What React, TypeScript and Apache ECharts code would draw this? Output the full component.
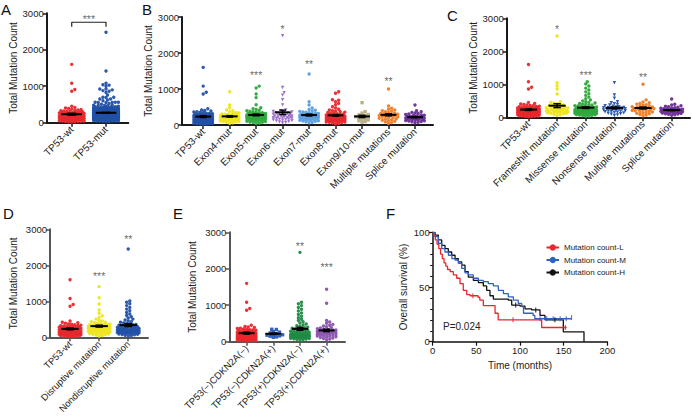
import React, { useEffect, useRef } from 'react';
import * as echarts from 'echarts';

const FONT = '"Liberation Sans", Arial, Helvetica, sans-serif';

// ---------- colours ----------
const RED = '#e8262b';
const BLUE = '#2150a8';
const YELLOW = '#eee41c';
const GREEN = '#2ea83c';
const DKGREEN = '#1f8a43';
const LPURPLE = '#9a6cc8';
const LBLUE = '#5b9de0';
const KHAKI = '#b5ad83';
const ORANGE = '#f07c22';
const DPURPLE = '#6b2c96';
const EPURPLE = '#8a53ad';
const EBLUE = '#2a58b5';

// ---------- data (Total Mutation Count per sample) ----------
const tp53Wt = [1600, 1080, 910, 860, 452, 418, 405, 388, 372, 360, 351, 338, 330, 322, 315, 306, 298, 291, 284, 279, 270, 266, 258, 252, 247, 241, 236, 230, 226, 219, 214, 208, 203, 199, 192, 188, 182, 177, 171, 168, 162, 158, 151, 147, 142, 138, 133, 128, 124, 119, 115, 110, 104, 99, 95, 90, 86, 81, 77, 72, 68, 63, 58, 54, 49, 44, 40, 35, 31, 26, 22, 18, 150, 210, 260, 180, 120, 240, 300, 90];
const exon4 = [926, 556, 480, 417, 398, 372, 350, 333, 320, 305, 298, 287, 276, 268, 259, 251, 246, 238, 231, 224, 219, 212, 206, 199, 193, 188, 181, 176, 170, 163, 158, 150, 144, 139, 131, 125, 118, 110, 102, 95, 86, 74, 62, 48, 265, 240, 210, 300];
const exon5 = [1080, 1030, 860, 760, 560, 480, 455, 430, 410, 395, 380, 366, 352, 340, 331, 322, 315, 308, 300, 294, 288, 281, 275, 270, 264, 259, 254, 248, 243, 238, 233, 228, 224, 219, 214, 209, 204, 199, 194, 189, 184, 178, 173, 168, 162, 156, 150, 144, 138, 131, 124, 117, 110, 102, 94, 85, 76, 66, 55, 42, 300, 250, 230, 280, 210, 190, 260, 320];
const exon6 = [2480, 1040, 900, 830, 700, 560, 420, 398, 376, 360, 344, 330, 318, 305, 292, 281, 270, 260, 251, 242, 233, 224, 215, 206, 197, 188, 179, 170, 161, 152, 142, 132, 121, 110, 98, 85, 70, 55, 300, 250, 200, 350];
const exon7 = [1418, 648, 556, 470, 432, 410, 392, 378, 365, 352, 341, 330, 320, 311, 302, 294, 286, 279, 272, 265, 258, 252, 246, 240, 234, 228, 222, 216, 210, 204, 198, 192, 186, 180, 173, 166, 159, 152, 145, 137, 129, 120, 111, 101, 90, 78, 64, 270, 250, 300, 230, 210, 290];
const exon8 = [926, 880, 700, 690, 648, 600, 560, 509, 470, 440, 417, 400, 385, 371, 358, 346, 335, 325, 315, 306, 297, 289, 281, 273, 266, 259, 252, 245, 239, 233, 227, 221, 215, 209, 203, 197, 191, 185, 179, 173, 167, 161, 155, 149, 143, 137, 130, 123, 116, 109, 101, 93, 85, 76, 66, 55, 42, 30, 250, 220, 200, 180, 160, 140, 120, 100, 80];
const exon910 = [620, 370, 330, 290, 278, 260, 245, 230, 215, 200, 180, 160, 140, 118, 95, 80];
const multipleMut = [1000, 528, 464, 440, 420, 400, 382, 366, 350, 336, 322, 310, 298, 286, 275, 264, 253, 242, 231, 220, 209, 198, 186, 174, 161, 148, 134, 119, 103, 86, 66, 45, 300, 270];
const spliceMut = [556, 398, 370, 350, 332, 318, 305, 293, 282, 272, 262, 253, 244, 236, 228, 220, 212, 205, 198, 191, 184, 177, 170, 163, 156, 149, 142, 134, 126, 118, 109, 99, 88, 75, 60, 220, 200, 240, 180];
const tp53Mut = [...exon4, ...exon5, ...exon6, ...exon7, ...exon8, ...exon910, ...multipleMut, ...spliceMut];

const frameshift = [2463, 1048, 957, 860, 706, 473, 450, 430, 410, 392, 376, 361, 347, 334, 322, 311, 300, 290, 280, 271, 262, 253, 244, 236, 228, 220, 212, 204, 196, 188, 180, 171, 162, 152, 142, 131, 119, 106, 92, 76, 58, 200, 160, 120];
const missense = [1079, 1012, 948, 884, 826, 771, 715, 664, 612, 560, 528, 498, 472, 451, 433, 416, 401, 387, 374, 362, 351, 340, 330, 320, 311, 302, 294, 286, 278, 271, 264, 257, 250, 244, 238, 232, 226, 220, 214, 209, 204, 199, 194, 189, 184, 179, 174, 169, 164, 159, 154, 149, 144, 139, 134, 129, 124, 118, 112, 106, 100, 94, 88, 81, 74, 67, 59, 51, 42, 33, 230, 215, 205, 160, 145, 130, 190, 175, 110, 225];
const nonsense = [1048, 676, 576, 473, 440, 412, 390, 371, 354, 339, 325, 312, 300, 289, 279, 269, 260, 251, 242, 233, 224, 215, 206, 197, 188, 178, 168, 157, 146, 134, 121, 107, 92, 75, 56, 260, 240, 280, 220, 300];

const disruptive = [1407, 1101, 926, 759, 667, 600, 548, 505, 470, 452, 436, 421, 407, 394, 382, 370, 359, 349, 339, 330, 321, 313, 305, 297, 290, 283, 276, 269, 262, 256, 250, 244, 238, 232, 226, 220, 214, 208, 202, 196, 190, 184, 178, 172, 166, 160, 154, 147, 140, 133, 126, 118, 110, 102, 93, 84, 74, 63, 51, 38, 300, 280, 320, 260, 240, 350, 310, 290, 270, 330];
const nondisruptive = [2455, 1009, 975, 930, 880, 830, 782, 735, 690, 648, 607, 570, 536, 505, 478, 455, 435, 417, 401, 386, 372, 359, 347, 336, 325, 315, 305, 296, 287, 279, 271, 263, 256, 249, 242, 235, 228, 222, 216, 210, 204, 198, 192, 186, 180, 174, 168, 162, 156, 150, 144, 138, 132, 126, 120, 113, 106, 99, 92, 84, 76, 68, 59, 49, 38, 240, 230, 220, 160, 150, 140, 200, 130, 190, 110];

const wtCdknPos = [340, 335, 280, 262, 240, 222, 205, 190, 178, 160, 150, 132, 120];
const mutCdknNeg = [2450, 1080, 1040, 990, 940, 890, 840, 790, 745, 700, 658, 618, 580, 545, 512, 483, 458, 436, 416, 398, 382, 367, 353, 340, 328, 317, 306, 296, 286, 277, 268, 260, 252, 244, 237, 230, 223, 216, 209, 203, 197, 191, 185, 179, 173, 167, 161, 155, 149, 143, 137, 131, 124, 117, 110, 103, 96, 88, 80, 72, 63, 53, 42, 150, 140, 130, 120, 210, 160, 170, 200, 110, 190];
const mutCdknPos = [1436, 1052, 580, 540, 505, 475, 450, 428, 408, 390, 374, 359, 345, 332, 320, 309, 299, 289, 280, 271, 262, 254, 246, 238, 230, 222, 214, 206, 198, 190, 182, 174, 165, 156, 146, 136, 125, 113, 100, 86, 70, 52, 300, 280, 260, 240, 320, 290];

// categories
const catsA = ['TP53-wt', 'TP53-mut'];
const catsB = ['TP53-wt', 'Exon4-mut', 'Exon5-mut', 'Exon6-mut', 'Exon7-mut', 'Exon8-mut', 'Exon9/10-mut', 'Multiple mutations', 'Splice mutation'];
const catsC = ['TP53-wt', 'Frameshift mutation', 'Missense mutation', 'Nonsense mutation', 'Multiple mutations', 'Splice mutation'];
const catsD = ['TP53-wt', 'Disruptive mutation', 'Nondisruptive mutation'];
const catsE = ['TP53(\u2212)CDKN2A(\u2212)', 'TP53(\u2212)CDKN2A(+)', 'TP53(+)CDKN2A(\u2212)', 'TP53(+)CDKN2A(+)'];
const countTicks = [0, 1000, 2000, 3000];

// significance labels: [category index, height, text]
const starsA: [number, number, string][] = [[0.5, 2900, '***']];
const starsB: [number, number, string][] = [[2, 1465, '***'], [3, 2733, '*'], [4, 1760, '**'], [7, 1298, '**']];
const starsC: [number, number, string][] = [[1, 2745, '*'], [2, 1363, '***'], [4, 1303, '**']];
const starsD: [number, number, string][] = [[1, 1760, '***'], [2, 2797, '**']];
const starsE: [number, number, string][] = [[2, 2696, '**'], [3, 2120, '***']];

// Kaplan-Meier (months, survival %)
const kmL = [[0, 100], [1, 97], [3, 93], [5, 89], [7, 85], [9, 80], [11, 76], [13, 72], [15, 69], [17, 66], [20, 64], [23.7, 61], [27.5, 58], [31.3, 53], [35, 47], [39, 43], [42.7, 42], [52, 40.5], [54, 38], [58, 33], [71.4, 26], [75, 20], [124.8, 13], [153.4, 13]];
const kmM = [[0, 100], [2.6, 96], [6.5, 90], [10.3, 85], [14, 82], [18, 79], [22, 76], [25.6, 74.7], [29.4, 71.6], [33.2, 67], [37, 63], [40.8, 61], [46.6, 58], [52.3, 56], [58, 55], [63.7, 53], [69.5, 51], [75.2, 47], [81, 44], [86.6, 41], [92.4, 38], [98, 35], [102, 32], [104, 26], [115, 24], [117, 21], [159, 21]];
const kmH = [[0, 100], [2.7, 97.5], [6.5, 93], [10.3, 88], [14.1, 85], [17.9, 82], [21.8, 79], [25.6, 76], [29.4, 73], [33.2, 70], [37, 64], [40.8, 59], [46.6, 56], [52.3, 54], [58, 51], [61.8, 47], [65.6, 42], [69.5, 39], [86.6, 38], [90.5, 33.5], [100, 32.6], [105.7, 30], [113.4, 29], [122.9, 24], [128.6, 20], [149.6, 9], [173.3, 9], [173.3, 0]];
const censorL = [[46, 42], [92, 20], [152, 13]];
const censorM = [[123, 21], [130.5, 21], [138, 21], [146, 21], [153, 21], [159, 22]];
const censorH = [[95, 33.5], [118, 29], [140, 20]];
const kmNames = ['Mutation count-L', 'Mutation count-M', 'Mutation count-H'];
const kmColors = [RED, '#2f62c0', '#111111'];
const timeTicks = [0, 50, 100, 150, 200];
const survTicks = [0, 50, 100];

// ---------- helpers ----------
function meanSem(v: number[]) {
  const n = v.length;
  const m = v.reduce((a, b) => a + b, 0) / n;
  const sd = Math.sqrt(v.reduce((a, b) => a + (b - m) * (b - m), 0) / (n - 1));
  return [m, sd / Math.sqrt(n)];
}

function swarm(values: number[], pxPerUnit: number, diam: number, maxHalf: number) {
  const idx = values.map((_, i) => i).sort((a, b) => values[a] - values[b]);
  const placed: { x: number; y: number }[] = [];
  const out = new Array(values.length).fill(0);
  const step = diam * 0.5;
  const nSteps = Math.floor(maxHalf / step);
  const cands: number[] = [0];
  for (let k = 1; k <= nSteps; k++) cands.push(k * step, -k * step);
  for (const i of idx) {
    const y = values[i] * pxPerUnit;
    const near = placed.filter((p) => Math.abs(p.y - y) < diam);
    let best = 0;
    let bestD = -1;
    for (const c of cands) {
      let minD = Infinity;
      for (const p of near) {
        const d = Math.hypot(p.x - c, p.y - y);
        if (d < minD) minD = d;
      }
      if (minD >= diam * 0.85) { best = c; break; }
      if (minD > bestD) { bestD = minD; best = c; }
    }
    placed.push({ x: best, y });
    out[i] = best;
  }
  return out;
}

type Group = { v: number[]; c: string; sym?: string; rot?: number };
type Panel = {
  grid: { left: number; top: number; width: number; height: number };
  xMin: number; xMax: number; cats: string[]; groups: Group[]; labelSize: number;
  stars: [number, number, string][]; axisColor: string; nameGap: number; bracket?: boolean;
};

const panels: Panel[] = [
  { grid: { left: 46.7, top: 13.3, width: 81.6, height: 109.4 }, xMin: -0.73, xMax: 1.65, cats: catsA, labelSize: 10,
    groups: [{ v: tp53Wt, c: RED }, { v: tp53Mut, c: BLUE }], stars: starsA, axisColor: '#1a1a1a', nameGap: 25, bracket: true },
  { grid: { left: 182, top: 17, width: 251, height: 108 }, xMin: -0.8, xMax: 8.68, cats: catsB, labelSize: 10,
    groups: [{ v: tp53Wt, c: BLUE }, { v: exon4, c: YELLOW }, { v: exon5, c: GREEN }, { v: exon6, c: LPURPLE, sym: 'triangle', rot: 180 },
      { v: exon7, c: LBLUE }, { v: exon8, c: RED }, { v: exon910, c: KHAKI, sym: 'rect' }, { v: multipleMut, c: ORANGE }, { v: spliceMut, c: DPURPLE }],
    stars: starsB, axisColor: '#1a1a1a', nameGap: 28.7 },
  { grid: { left: 506.7, top: 18.3, width: 183.3, height: 99 }, xMin: -0.76, xMax: 5.64, cats: catsC, labelSize: 10,
    groups: [{ v: tp53Wt, c: RED }, { v: frameshift, c: YELLOW }, { v: missense, c: GREEN }, { v: nonsense, c: BLUE, sym: 'triangle', rot: 180 },
      { v: multipleMut, c: ORANGE }, { v: spliceMut, c: DPURPLE }],
    stars: starsC, axisColor: '#1a1a1a', nameGap: 28.4 },
  { grid: { left: 50, top: 229.3, width: 98, height: 108 }, xMin: -0.69, xMax: 2.68, cats: catsD, labelSize: 9.4,
    groups: [{ v: tp53Wt, c: RED }, { v: disruptive, c: YELLOW }, { v: nondisruptive, c: BLUE }],
    stars: starsD, axisColor: '#555555', nameGap: 31.7 },
  { grid: { left: 229.3, top: 232.3, width: 115.7, height: 109.4 }, xMin: -0.65, xMax: 3.69, cats: catsE, labelSize: 9.6,
    groups: [{ v: tp53Wt, c: RED }, { v: wtCdknPos, c: EBLUE, sym: 'rect' }, { v: mutCdknNeg, c: DKGREEN }, { v: mutCdknPos, c: EPURPLE }],
    stars: starsE, axisColor: '#555555', nameGap: 32.3 },
];

function buildOption() {
  const grids: any[] = [];
  const xAxes: any[] = [];
  const yAxes: any[] = [];
  const series: any[] = [];
  const txt = { fontFamily: FONT, color: '#222' };
  const plain = (v: number) => String(v);

  panels.forEach((p, pi) => {
    grids.push({ ...p.grid, containLabel: false, outerBoundsMode: 'none' });
    const idxs = p.cats.map((_, i) => i);
    xAxes.push({
      type: 'value', gridIndex: pi, min: p.xMin, max: p.xMax,
      axisLine: { show: true, onZero: false, lineStyle: { color: p.axisColor, width: 2 } },
      axisTick: { show: true, customValues: idxs, length: 4, lineStyle: { color: p.axisColor, width: 1.5 } },
      axisLabel: { customValues: idxs, formatter: (v: number) => p.cats[Math.round(v)] ?? '', rotate: 45, fontSize: p.labelSize, margin: 5, ...txt },
      splitLine: { show: false },
    });
    yAxes.push({
      type: 'value', gridIndex: pi, min: countTicks[0], max: countTicks[countTicks.length - 1], interval: 1000,
      name: 'Total Mutation Count', nameLocation: 'middle', nameGap: p.nameGap,
      nameTextStyle: { fontSize: 10, ...txt },
      axisLine: { show: true, onZero: false, lineStyle: { color: p.axisColor, width: 2 } },
      axisTick: { show: true, length: 4, lineStyle: { color: p.axisColor, width: 1.5 } },
      axisLabel: { fontSize: 9.5, margin: 3, formatter: plain, ...txt },
      splitLine: { show: false },
    });
    const pxPerUnit = p.grid.height / 3000;
    const catPx = p.grid.width / (p.xMax - p.xMin);
    const stats: number[][] = [];
    p.groups.forEach((g, gi) => {
      const off = swarm(g.v, pxPerUnit, 3.1, catPx * 0.4);
      series.push({
        type: 'scatter', xAxisIndex: pi, yAxisIndex: pi, symbol: g.sym || 'circle', symbolRotate: g.rot || 0,
        symbolSize: 3.4, itemStyle: { color: g.c, opacity: 0.95 }, silent: true, z: 2,
        data: g.v.map((v, j) => [gi + off[j] / catPx, v]),
      });
      const [m, s] = meanSem(g.v);
      stats.push([gi, m, s]);
    });
    series.push({
      type: 'custom', xAxisIndex: pi, yAxisIndex: pi, coordinateSystem: 'cartesian2d', z: 5, silent: true,
      encode: { x: 0, y: 1 }, clip: false, data: stats, itemStyle: { color: '#000' },
      renderItem: (_params: any, api: any) => {
        const x = api.value(0), m = api.value(1), s = api.value(2);
        const a = api.coord([x - 0.3, m]), b = api.coord([x + 0.3, m]);
        const t = api.coord([x, m + s]), bo = api.coord([x, m - s]);
        const tl = api.coord([x - 0.13, m + s]), tr = api.coord([x + 0.13, m + s]);
        const bl = api.coord([x - 0.13, m - s]), br = api.coord([x + 0.13, m - s]);
        const st = { stroke: '#000', lineWidth: 1.4 };
        return {
          type: 'group', children: [
            { type: 'line', shape: { x1: a[0], y1: a[1], x2: b[0], y2: b[1] }, style: { stroke: '#000', lineWidth: 2 } },
            { type: 'line', shape: { x1: t[0], y1: t[1], x2: bo[0], y2: bo[1] }, style: st },
            { type: 'line', shape: { x1: tl[0], y1: tl[1], x2: tr[0], y2: tr[1] }, style: st },
            { type: 'line', shape: { x1: bl[0], y1: bl[1], x2: br[0], y2: br[1] }, style: st },
          ],
        };
      },
    });
    // significance asterisks
    series.push({
      type: 'scatter', xAxisIndex: pi, yAxisIndex: pi, symbol: 'circle', symbolSize: 0.01, silent: true, z: 6,
      itemStyle: { color: 'rgba(0,0,0,0)' },
      data: p.stars.map((s) => [s[0], s[1], s[2]]),
      label: {
        show: true, position: 'inside', offset: [0, 2.5], formatter: (pr: any) => pr.data[2],
        color: '#444', fontSize: 10.5, fontFamily: FONT,
      },
    });
    if (p.bracket) {
      series.push({
        type: 'line', xAxisIndex: pi, yAxisIndex: pi, symbol: 'none', silent: true, z: 4,
        lineStyle: { color: '#222', width: 1.2 }, itemStyle: { color: '#222' },
        data: [[0, 2630], [0, 2755], [1, 2755], [1, 2630]],
      });
    }
  });

  // Panel F
  const fi = panels.length;
  grids.push({ left: 432.7, top: 232.3, width: 174.6, height: 109.4, containLabel: false, outerBoundsMode: 'none' });
  xAxes.push({
    type: 'value', gridIndex: fi, min: timeTicks[0], max: timeTicks[timeTicks.length - 1], interval: 50,
    name: 'Time (months)', nameLocation: 'middle', nameGap: 19, nameTextStyle: { fontSize: 10, ...txt },
    axisLine: { show: true, onZero: false, lineStyle: { color: '#111', width: 1.5 } },
    axisTick: { show: true, length: 4, lineStyle: { color: '#111', width: 1.2 } },
    axisLabel: { fontSize: 9.5, margin: 4, formatter: plain, ...txt }, splitLine: { show: false },
  });
  yAxes.push({
    type: 'value', gridIndex: fi, min: survTicks[0], max: survTicks[survTicks.length - 1], interval: 50,
    name: 'Overall survival (%)', nameLocation: 'middle', nameGap: 24.7, nameTextStyle: { fontSize: 10, ...txt },
    axisLine: { show: true, onZero: false, lineStyle: { color: '#111', width: 1.5 } },
    axisTick: { show: true, length: 4, lineStyle: { color: '#111', width: 1.2 } },
    minorTick: { show: true, splitNumber: 5, length: 2.5, lineStyle: { color: '#111', width: 1 } },
    axisLabel: { fontSize: 9.5, margin: 3, formatter: plain, ...txt }, splitLine: { show: false }, minorSplitLine: { show: false },
  });
  [kmL, kmM, kmH].forEach((d, k) => {
    series.push({
      type: 'line', name: kmNames[k], xAxisIndex: fi, yAxisIndex: fi, step: 'end', symbol: 'none', silent: true,
      lineStyle: { color: kmColors[k], width: 1.3 }, itemStyle: { color: kmColors[k] }, data: d, z: 3 + (2 - k),
    });
  });
  [censorL, censorM, censorH].forEach((d, k) => {
    series.push({
      type: 'scatter', xAxisIndex: fi, yAxisIndex: fi, symbol: 'rect', symbolSize: [1.2, 5], silent: true,
      itemStyle: { color: kmColors[k] }, data: d, z: 4,
    });
  });

  const letter = (t: string, x: number, y: number) => ({
    type: 'text', x, y, style: { text: t, font: `15px ${FONT}`, fill: '#111', verticalAlign: 'middle' },
  });

  return {
    animation: false,
    backgroundColor: '#ffffff',
    grid: grids, xAxis: xAxes, yAxis: yAxes, series,
    legend: {
      data: kmNames, orient: 'vertical', left: 540.5, top: 238.5, itemWidth: 12.5, itemHeight: 8, itemGap: 4.5,
      textStyle: { fontSize: 8, ...txt }, selectedMode: false,
    },
    graphic: [
      letter('A', 1, 9), letter('B', 142, 9.5), letter('C', 447, 15.5),
      letter('D', 3, 213), letter('E', 173, 213), letter('F', 386, 213),
      { type: 'text', x: 443, y: 326.7, style: { text: 'P=0.024', font: `10px ${FONT}`, fill: '#222', verticalAlign: 'middle' } },
    ],
  };
}

export default function App() {
  const ref = useRef<HTMLDivElement>(null);
  useEffect(() => {
    const chart = echarts.init(ref.current!, null, { renderer: 'svg' });
    chart.setOption(buildOption() as any);
    return () => chart.dispose();
  }, []);
  return <div ref={ref} style={{ position: 'fixed', left: 0, top: 0, width: 692, height: 419, background: '#fff' }} />;
}
